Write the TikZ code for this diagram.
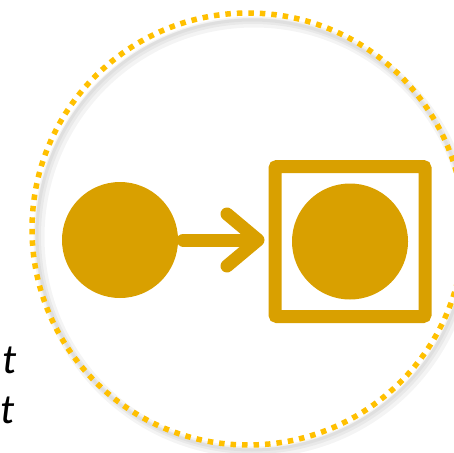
\documentclass[tikz,border=0pt]{standalone}
\usepackage{fontspec}
\newfontfamily\calibrifont{Carlito}
\usepackage{tikz}
\usetikzlibrary{arrows.meta, positioning}
\definecolor{mygold}{HTML}{D9A000}
\definecolor{myring}{HTML}{FFC000}
\tikzset{
	goldball/.style={
			circle,
			draw=none,
			fill=mygold,
			inner sep=0pt,
			minimum size=116pt
		},
	goldframe/.style={
			rectangle,
			draw=mygold,
			line width=13pt,
			rounded corners=2pt,
			inner sep=0pt,
			minimum size=150pt
		},
	goldarrow/.style={
			draw=mygold,
			line width=13pt,
			line cap=round,
			-{Straight Barb[length=31pt, width=52pt, line width=13pt, round]}
		},
	dotring/.style={
			circle,
			draw=myring,
			line width=5.5pt,
			dash pattern=on 5.5pt off 6pt,
			inner sep=0pt,
			minimum size=432pt
		},
	ringshadow/.style={
			circle,
			draw=black,
			draw opacity=0.045,
			inner sep=0pt,
			minimum size=430pt
		},
	tlabel/.style={
			inner sep=0pt,
			anchor=base east,
			font=\calibrifont\itshape\fontsize{42}{50}\selectfont
		}
}
\begin{document}
\begin{tikzpicture}[x=1pt, y=-1pt]
\useasboundingbox (0,0) rectangle (454,452);

\node (shadowa) at (254,237) [ringshadow, line width=11pt] {};
\node (shadowb) at (253,236) [ringshadow, line width=6pt] {};
\node (shadowc) at (252,235) [ringshadow, line width=3pt] {};
\node (ring) at (248,229) [dotring] {};

\node (src) at (120,240) [goldball] {};
\node (box) at (350,241.5) [goldframe] {};
\node (tgt) at (box.center) [goldball] {};

\draw[goldarrow, shorten <=5pt, shorten >=4pt] (src.east) -- (src.east -| box.west);

\node (t1) at (17,373) [tlabel] {t};
\node (t2) at (15,423) [tlabel] {t};

\end{tikzpicture}
\end{document}
